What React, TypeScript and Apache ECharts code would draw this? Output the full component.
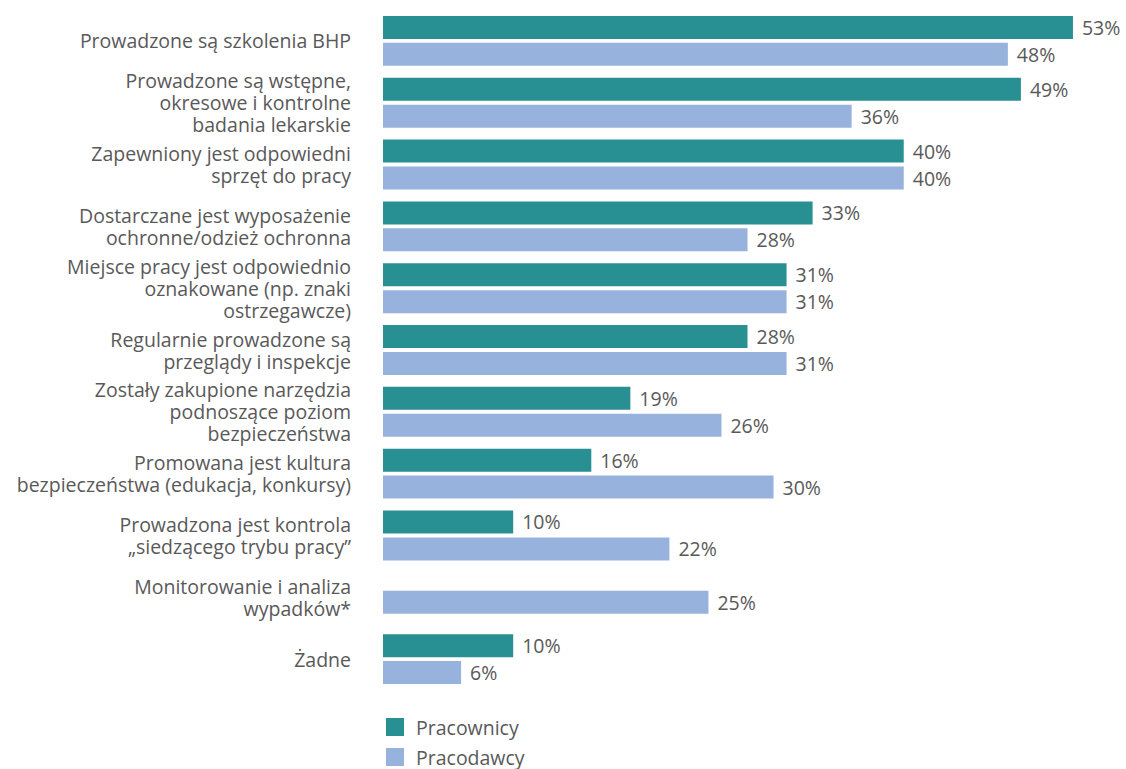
import React, { useEffect, useRef } from "react";
import * as echarts from "echarts";

const categories = [
  "Prowadzone są szkolenia BHP",
  "Prowadzone są wstępne,\nokresowe i kontrolne\nbadania lekarskie",
  "Zapewniony jest odpowiedni\nsprzęt do pracy",
  "Dostarczane jest wyposażenie\nochronne/odzież ochronna",
  "Miejsce pracy jest odpowiednio\noznakowane (np. znaki\nostrzegawcze)",
  "Regularnie prowadzone są\nprzeglądy i inspekcje",
  "Zostały zakupione narzędzia\npodnoszące poziom\nbezpieczeństwa",
  "Promowana jest kultura\nbezpieczeństwa (edukacja, konkursy)",
  "Prowadzona jest kontrola\n„siedzącego trybu pracy”",
  "Monitorowanie i analiza\nwypadków*",
  "Żadne",
];

const pracownicy: (number | null)[] = [53, 49, 40, 33, 31, 28, 19, 16, 10, null, 10];
const pracodawcy: number[] = [48, 36, 40, 28, 31, 31, 26, 30, 22, 25, 6];

const FONT = "Open Sans";
const TEXT = "#595959";
const FS = 19.5;

export default function App() {
  const ref = useRef<HTMLDivElement>(null);
  useEffect(() => {
    if (!ref.current) return;
    const chart = echarts.init(ref.current, undefined, { renderer: "svg" });
    const label = {
      show: true,
      position: "right",
      distance: 9,
      color: TEXT,
      fontFamily: FONT,
      fontSize: FS,
      formatter: (p: any) => (p.value == null ? "" : p.value + "%"),
    };
    const pracodawcyPaired = pracodawcy.map((v, i) => (pracownicy[i] == null ? null : v));
    const pracodawcyAlone = pracodawcy.map((v, i) => (pracownicy[i] == null ? v : null));
    const legendBase = {
      orient: "vertical",
      left: 386,
      padding: 0,
      itemWidth: 18,
      itemHeight: 18,
      icon: "rect",
      textStyle: { color: TEXT, fontFamily: FONT, fontSize: FS, padding: [0, 0, 0, 7] },
    };
    chart.setOption({
      animation: false,
      textStyle: { fontFamily: FONT },
      grid: { left: 383, top: 10, width: 716, height: 680 },
      legend: [
        { ...legendBase, top: 717, data: ["Pracownicy"] },
        { ...legendBase, top: 747, data: ["Pracodawcy"] },
      ],
      xAxis: {
        type: "value",
        min: 0,
        max: 55,
        show: false,
      },
      yAxis: [
        {
          type: "category",
          inverse: true,
          data: categories,
          axisLine: { show: false },
          axisTick: { show: false },
          axisLabel: {
            margin: 32,
            color: TEXT,
            fontFamily: FONT,
            fontSize: FS,
            lineHeight: 22,
            align: "right",
          },
        },
        {
          type: "category",
          inverse: true,
          data: categories,
          show: false,
        },
      ],
      series: [
        {
          name: "Pracownicy",
          type: "bar",
          data: pracownicy,
          barWidth: 23,
          barGap: "17%",
          itemStyle: { color: "#288f93" },
          label,
        },
        {
          name: "Pracodawcy",
          type: "bar",
          data: pracodawcyPaired,
          barWidth: 23,
          barGap: "17%",
          itemStyle: { color: "#97b2dc" },
          label,
        },
        {
          name: "_pad",
          type: "bar",
          yAxisIndex: 1,
          data: pracodawcy.map(() => null),
          barWidth: 23,
          barGap: "-56%",
          itemStyle: { color: "#97b2dc" },
        },
        {
          name: "Pracodawcy",
          type: "bar",
          yAxisIndex: 1,
          data: pracodawcyAlone,
          barWidth: 23,
          barGap: "-56%",
          itemStyle: { color: "#97b2dc" },
          label,
        },
      ],
    });
    return () => chart.dispose();
  }, []);
  return (
    <div
      ref={ref}
      style={{ position: "absolute", left: 0, top: 0, width: 1126, height: 769, background: "#fff" }}
    />
  );
}
